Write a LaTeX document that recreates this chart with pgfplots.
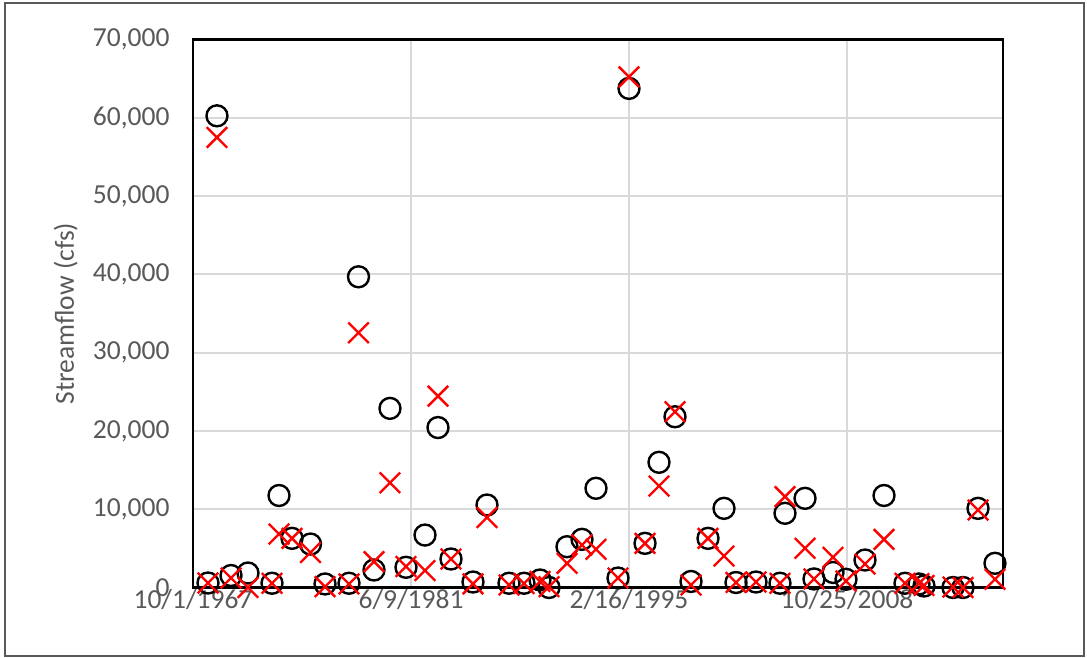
\documentclass[border=0pt]{standalone}
\usepackage{pgfplots}
\pgfplotsset{compat=1.18}
\usepackage{fontspec}
\setmainfont{Carlito}
\definecolor{txt}{HTML}{595959}
\definecolor{gridc}{HTML}{D9D9D9}
\definecolor{xred}{HTML}{FF0000}

\pgfplotstableread{
day obs sim
344 575 575
550 60250 57490
872 1530 1210
1261 1850 0
1812 540 540
1973 11750 6830
2271 6280 6280
2695 5550 4470
3028 450 100
3578 540 450
3796 39690 32540
4151 2235 3300
4518 22880 13380
4885 2580 2680
5321 6700 2170
5619 20430 24450
5917 3640 3640
6422 700 470
6743 10540 8940
7248 540 320
7592 540 510
7959 960 770
8165 0 100
8578 5210 3090
8922 6150 5430
9243 12670 4880
9748 1210 1210
10000 63750 65230
10367 5640 5640
10688 15990 12960
11055 21810 22450
11422 770 320
11812 6280 6280
12179 10110 4020
12454 640 640
12913 700 700
13463 540 540
13578 9480 11600
14037 11390 5010
14243 1090 1090
14679 1920 3860
14977 1050 830
15413 3510 3000
15849 11750 6150
16330 540 540
16651 450 510
16766 190 260
17431 0 60
17661 0 0
18005 10110 9900
18394 3090 1050
}\flowdata

\begin{document}
\begin{tikzpicture}
\useasboundingbox (0pt,0pt) rectangle (1087pt,658pt);
\draw[line width=2pt, color=black!65] (5pt,2pt) rectangle (1084pt,655pt);
\begin{axis}[
  at={(193pt,70.5pt)}, anchor=south west,
  width=810pt, height=548pt, scale only axis,
  xmin=0, xmax=18578, ymin=0, ymax=70000,
  xtick={0,5000,10000,15000},
  xticklabels={10/1/1967,6/9/1981,2/16/1995,10/25/2008},
  ytick={0,10000,20000,30000,40000,50000,60000,70000},
  grid=major,
  major grid style={color=gridc, line width=1.8pt},
  axis line style={black, line width=2.2pt},
  major tick length=0pt,
  tick label style={color=txt, font=\fontsize{27.5}{30}\selectfont},
  yticklabel style={xshift=-20pt},
  xticklabel style={yshift=2pt},
  scaled y ticks=false,
  scaled x ticks=false,
  /pgf/number format/assume math mode=true,
  /pgf/number format/1000 sep={,},
  ylabel={Streamflow (cfs)},
  ylabel style={at={(axis description cs:-0.157,0.5)}, anchor=center, rotate=0, color=txt, font=\fontsize{27.5}{30}\selectfont},
  clip=false,
]
\addplot[only marks, mark=o, mark size=10.5pt, line width=2.4pt, color=black] table[x=day, y=obs] {\flowdata};
\addplot[only marks, mark=x, mark size=14.5pt, line width=2.4pt, color=xred] table[x=day, y=sim] {\flowdata};
\end{axis}
\end{tikzpicture}
\end{document}
